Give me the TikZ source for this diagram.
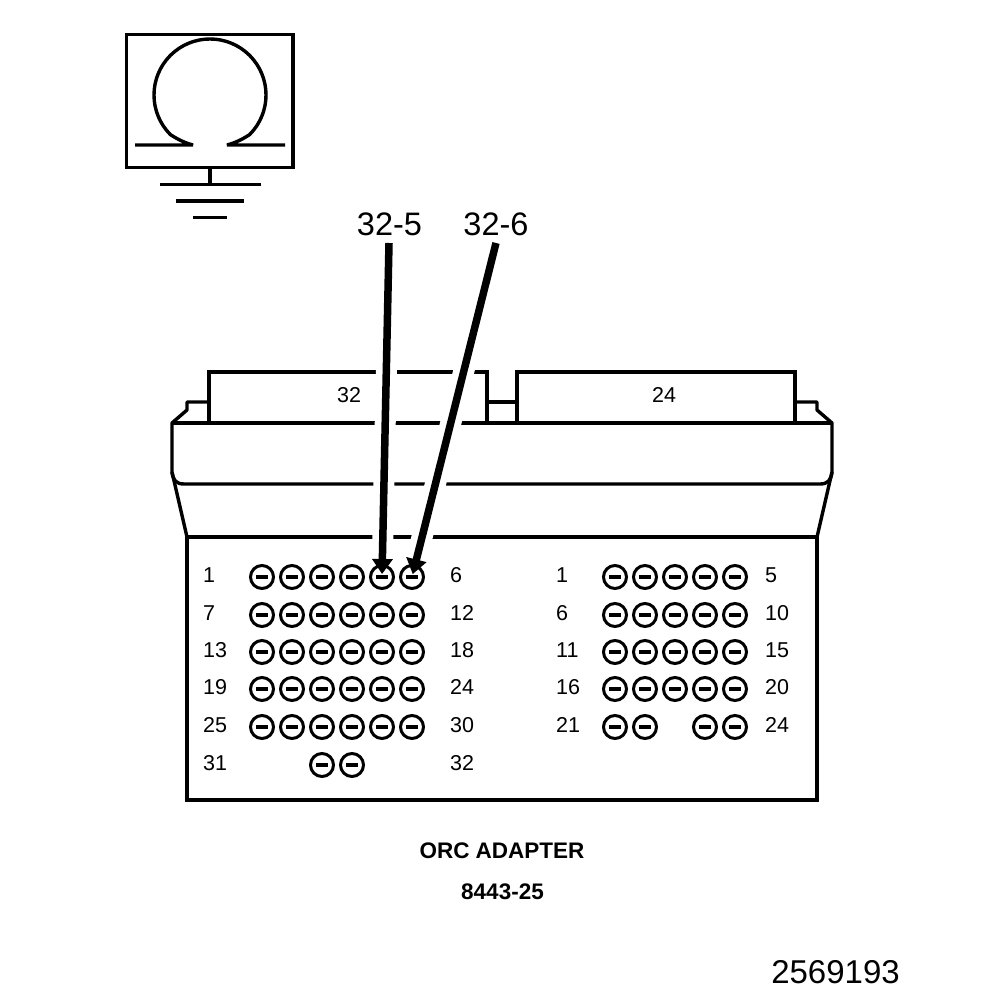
\documentclass[tikz,border=0pt]{standalone}
\usepackage{fontspec}
\setmainfont{Liberation Sans}
\usetikzlibrary{arrows.meta}
\begin{document}
\begin{tikzpicture}[
  x=1pt, y=-1pt,
  outline/.style={line width=3.4pt, line join=bevel},
  pin/.style={circle, draw, line width=3pt, minimum size=23pt, inner sep=0pt,
    path picture={\draw[line width=3.4pt] ([xshift=-6pt]path picture bounding box.center) -- ([xshift=6pt]path picture bounding box.center);}},
  num/.style={anchor=west, inner sep=0pt, font=\fontsize{21.5}{24}\selectfont},
  callout/.style={inner sep=0pt, font=\fontsize{32.5}{36}\selectfont},
  caption/.style={inner sep=0pt, font=\fontsize{22.5}{26}\selectfont\bfseries},
  pointer/.style={-{Triangle[width=20pt,length=15pt]}, line width=7.5pt, shorten >=3pt},
  halo/.style={white, line width=21pt, shorten >=32pt}
]
\useasboundingbox (0,0) rectangle (1008,1000);

% ohmmeter and ground
\draw[outline, line join=miter] (126.5,34.5) rectangle (293,167.5);
\draw[outline] (135,145) -- (193,145) .. controls (185,143) and (177,139) .. (170.4,134.6)
  arc[start angle=225, end angle=-45, radius=56pt]
  .. controls (243,139) and (235,143) .. (227,145) -- (285,145);
\draw[outline] (210,167.5) -- (210,184.5);
\draw[outline] (160,184.5) -- (261,184.5);
\draw[outline] (176,201) -- (244,201);
\draw[outline] (193,217.5) -- (227,217.5);

% adapter body
\draw[outline, line join=miter] (209,423) |- (487,372) -- (487,423);
\draw[outline, line join=miter] (517,423) |- (795,372) -- (795,423);
\draw[outline] (209,402) -| (187,410) -- (172,423) -- (172,472)
  .. controls (173,480) and (176,484) .. (184,484) -- (820,484)
  .. controls (828,484) and (831,480) .. (832,472) -- (832,423) -- (817,410) |- (795,402);
\draw[outline] (487,402) -- (517,402);
\draw[outline] (172,423) -- (832,423);
\draw[outline] (172,472) -- (187,537);
\draw[outline] (832,472) -- (817,537);
\draw[outline, line join=miter] (187,537) rectangle (817,800);

% left block
\foreach \y/\a/\b in {577/1/6, 615/7/12, 652/13/18, 689/19/24, 727/25/30}{
  \node[num] (la\a) at (203,\y-2) {\a};
  \node[num] (lb\b) at (450,\y-2) {\b};
  \foreach \x in {262,292,322,352,382,412}
    \node[pin] (p\a-\x) at (\x,\y) {};
}
\node[num] (la31) at (203,763) {31};
\node[num] (lb32) at (450,763) {32};
\node[pin] (p31-322) at (322,765) {};
\node[pin] (p31-352) at (352,765) {};

% right block
\foreach \y/\a/\b in {577/1/5, 615/6/10, 652/11/15, 689/16/20}{
  \node[num] (ra\a) at (556,\y-2) {\a};
  \node[num] (rb\b) at (765,\y-2) {\b};
  \foreach \x in {615,645,675,705,735}
    \node[pin] (q\a-\x) at (\x,\y) {};
}
\node[num] (ra21) at (556,725) {21};
\node[num] (rb24) at (765,725) {24};
\foreach \x in {615,645,705,735}
  \node[pin] (q21-\x) at (\x,727) {};

% plug numbers
\node[inner sep=0pt, font=\fontsize{21.5}{24}\selectfont] (plug32) at (349,395) {32};
\node[inner sep=0pt, font=\fontsize{21.5}{24}\selectfont] (plug24) at (664,395) {24};

% callouts
\node[callout] (call5) at (389.5,224) {32-5};
\node[callout] (call6) at (496,224) {32-6};
\coordinate (tail5) at (389,243);
\coordinate (tail6) at (496,243);
\draw[halo] (tail5) -- (p1-382.center);
\draw[halo] (tail6) -- (p1-412.center);
\draw[pointer] (tail5) -- (p1-382.center);
\draw[pointer] (tail6) -- (p1-412.center);

\node[caption] (title) at (502,851) {ORC ADAPTER};
\node[caption] (number) at (502.5,892) {8443-25};
\node[inner sep=0pt, font=\fontsize{33}{36}\selectfont] (figno) at (835.5,972) {2569193};
\end{tikzpicture}
\end{document}
